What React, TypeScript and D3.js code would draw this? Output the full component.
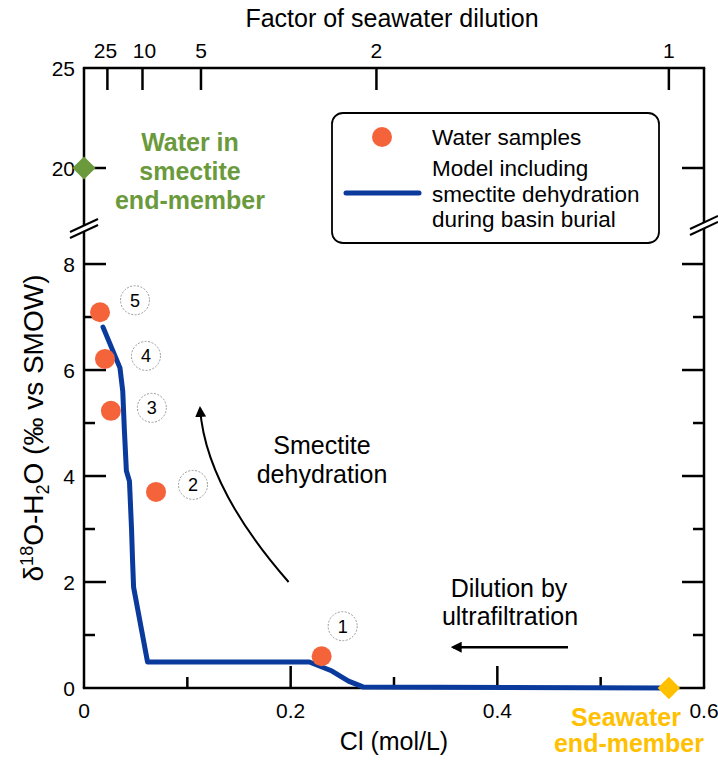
import React from 'react';
import * as d3 from 'd3';

// water samples (Cl in mol/L, d18O in permil)
const SAMPLE_IDS = ['1', '2', '3', '4', '5'];
const SAMPLE_CL = [0.230, 0.0697, 0.026, 0.0203, 0.0155];
const SAMPLE_D18O = [0.60, 3.70, 5.23, 6.21, 7.09];

// model: smectite dehydration during basin burial
const MODEL_CL = [0.0184, 0.0348, 0.0375, 0.039, 0.041, 0.044, 0.046, 0.047, 0.048, 0.0615, 0.218, 0.226, 0.24, 0.256, 0.27, 0.566];
const MODEL_D18O = [6.81, 6.04, 5.6, 4.9, 4.1, 3.9, 3.0, 2.4, 1.9, 0.49, 0.49, 0.43, 0.32, 0.13, 0.02, 0.0];

// end-members
const SEAWATER_CL = 0.566;
const SEAWATER_D18O = 0;
const SMECTITE_CL = 0;
const SMECTITE_D18O = 20;

// axes
const X_TICKS = [0.1, 0.2, 0.3, 0.4, 0.5];
const X_MAJOR = [0.2, 0.4];
const X_LABELS = ['0', '0.2', '0.4', '0.6'];
const Y_LOW_TICKS = [1, 2, 3, 4, 5, 6, 7, 8];
const Y_LOW_LABELS = [0, 2, 4, 6, 8];
const Y_HIGH_LABELS = [20, 25];
const FACTOR_TICKS = [25, 10, 5, 2, 1];

const FONT = 'Arial, "Liberation Sans", Helvetica, sans-serif';
const BLUE = '#0a3a9c';
const ORANGE = '#f4633a';
const GREEN = '#6a9a3c';
const YELLOW = '#ffc000';

const W = 718;
const H = 760;
const L = 84, R = 704, B = 688, T = 68, BRK = 228;

const App = () => {
  const x = d3.scaleLinear().domain([0, 0.6]).range([L, R]);
  const yLow = d3.scaleLinear().domain([0, 8.68]).range([B, BRK]);
  const yHigh = d3.scaleLinear().domain([17, 25]).range([BRK, T]);

  const line = d3.line<number>()
    .x(i => x(MODEL_CL[i]))
    .y(i => yLow(MODEL_D18O[i]));
  const modelPath = line(MODEL_CL.map((_, i) => i)) || '';

  // curved annotation arrow (data coordinates)
  const curved = d3.path();
  curved.moveTo(x(0.198), yLow(2.0));
  curved.quadraticCurveTo(x(0.1176), yLow(3.79), x(0.1123), yLow(5.28));

  const breakMark = (cx: number, cy: number) => (
    <g>
      <polygon points={`${cx - 14},${cy + 7} ${cx + 14},${cy - 6} ${cx + 14},${cy} ${cx - 14},${cy + 13}`} fill="white" />
      <line x1={cx - 14} y1={cy + 7} x2={cx + 14} y2={cy - 6} stroke="black" strokeWidth={2} />
      <line x1={cx - 14} y1={cy + 13} x2={cx + 14} y2={cy} stroke="black" strokeWidth={2} />
    </g>
  );

  const labelOffsets = [[21, -30], [37, -7], [41, -3], [41, -3], [35, -12]];

  return (
    <div style={{ position: 'absolute', left: 0, top: 0 }}>
      <svg width={W} height={H} style={{ display: 'block', background: 'white' }} fontFamily={FONT}>
        <defs>
          <marker id="ah" viewBox="0 0 10 10" refX="8" refY="5" markerWidth="11" markerHeight="11" markerUnits="userSpaceOnUse" orient="auto">
            <path d="M0,0 L10,5 L0,10 z" fill="black" />
          </marker>
        </defs>

        {/* frame */}
        <g stroke="black" strokeWidth={2.5} fill="none">
          <line x1={L} y1={T} x2={L} y2={B} />
          <line x1={R} y1={T} x2={R} y2={B} />
          <line x1={L - 1.2} y1={B} x2={R + 1.2} y2={B} />
          <line x1={L - 1.2} y1={T} x2={R + 1.2} y2={T} />
        </g>

        {/* bottom ticks */}
        <g stroke="black" strokeWidth={2.5}>
          {X_TICKS.map(t => (
            <line key={t} x1={x(t)} x2={x(t)} y1={B} y2={B - (X_MAJOR.includes(t) ? 22 : 11)} />
          ))}
        </g>
        <g fontSize={21} textAnchor="middle">
          {X_LABELS.map(t => (
            <text key={t} x={x(+t)} y={B + 30}>{t}</text>
          ))}
        </g>
        <text x={394} y={750} fontSize={25} textAnchor="middle">Cl (mol/L)</text>

        {/* top axis: factor of seawater dilution */}
        <g stroke="black" strokeWidth={2.5}>
          {FACTOR_TICKS.map(f => (
            <line key={f} x1={x(SEAWATER_CL / f)} x2={x(SEAWATER_CL / f)} y1={T} y2={T + 22} />
          ))}
        </g>
        <g fontSize={21} textAnchor="middle">
          {FACTOR_TICKS.map(f => (
            <text key={f} x={x(SEAWATER_CL / f) + (f === 25 ? -2 : f === 10 ? 2 : 0)} y={T - 10}>{f}</text>
          ))}
        </g>
        <text x={392} y={27} fontSize={25} textAnchor="middle">Factor of seawater dilution</text>

        {/* left/right ticks */}
        <g stroke="black" strokeWidth={2.5}>
          {Y_LOW_TICKS.map(t => {
            const len = t % 2 === 0 ? 22 : 11;
            return (
              <g key={t}>
                <line x1={L} x2={L + len} y1={yLow(t)} y2={yLow(t)} />
                <line x1={R} x2={R - len} y1={yLow(t)} y2={yLow(t)} />
              </g>
            );
          })}
          <line x1={L} x2={L + 22} y1={yHigh(20)} y2={yHigh(20)} />
          <line x1={R} x2={R - 22} y1={yHigh(20)} y2={yHigh(20)} />
        </g>
        <g fontSize={21} textAnchor="end">
          {Y_LOW_LABELS.map(t => (
            <text key={t} x={L - 9} y={yLow(t) + 7.5}>{t}</text>
          ))}
          {Y_HIGH_LABELS.map(t => (
            <text key={t} x={L - 9} y={yHigh(t) + 7.5}>{t}</text>
          ))}
        </g>
        <text transform="translate(43,428) rotate(-90)" fontSize={28} textAnchor="middle">
          δ<tspan dy={-10} fontSize={18}>18</tspan><tspan dy={10}>O-H</tspan><tspan dy={6} fontSize={18}>2</tspan><tspan dy={-6}>O (‰ vs SMOW)</tspan>
        </text>

        {/* axis breaks */}
        {breakMark(L, BRK - 3)}
        {breakMark(R, BRK - 6)}

        {/* model line */}
        <path d={modelPath} fill="none" stroke={BLUE} strokeWidth={5} strokeLinejoin="round" strokeLinecap="round" />

        {/* samples */}
        {SAMPLE_CL.map((c, i) => (
          <circle key={i} cx={x(c)} cy={yLow(SAMPLE_D18O[i])} r={10} fill={ORANGE} />
        ))}
        {SAMPLE_CL.map((c, i) => {
          const cx = x(c) + labelOffsets[i][0];
          const cy = yLow(SAMPLE_D18O[i]) + labelOffsets[i][1];
          return (
            <g key={i}>
              <circle cx={cx} cy={cy} r={14.5} fill="white" stroke="#9a9a9a" strokeWidth={1} strokeDasharray="2,1.5" />
              <text x={cx} y={cy + 6.5} fontSize={18} textAnchor="middle">{SAMPLE_IDS[i]}</text>
            </g>
          );
        })}

        {/* end-members */}
        <path d={d3.symbol(d3.symbolDiamond2, 340)() || ''} transform={`translate(${x(SMECTITE_CL)},${yHigh(SMECTITE_D18O)})`} fill={GREEN} />
        <path d={d3.symbol(d3.symbolDiamond2, 320)() || ''} transform={`translate(${x(SEAWATER_CL)},${yLow(SEAWATER_D18O)})`} fill={YELLOW} />

        <g fill={GREEN} fontSize={25} fontWeight="bold" textAnchor="middle">
          <text x={190} y={151}>Water in</text>
          <text x={190} y={180}>smectite</text>
          <text x={190} y={209}>end-member</text>
        </g>
        <g fill={YELLOW} fontSize={25} fontWeight="bold" textAnchor="middle">
          <text x={626} y={726}>Seawater</text>
          <text x={629} y={752}>end-member</text>
        </g>

        {/* annotations */}
        <path d={curved.toString()} fill="none" stroke="black" strokeWidth={2} markerEnd="url(#ah)" />
        <g fontSize={25} textAnchor="middle">
          <text x={322} y={454}>Smectite</text>
          <text x={322} y={483}>dehydration</text>
          <text x={509} y={597}>Dilution by</text>
          <text x={510} y={625}>ultrafiltration</text>
        </g>
        <line x1={x(0.4684)} y1={yLow(0.77)} x2={x(0.357)} y2={yLow(0.77)} stroke="black" strokeWidth={2.5} markerEnd="url(#ah)" />

        {/* legend */}
        <rect x={332} y={113} width={327} height={130} rx={11} fill="white" stroke="black" strokeWidth={1.8} />
        <circle cx={382} cy={137} r={10} fill={ORANGE} />
        <line x1={346} x2={419} y1={193} y2={193} stroke={BLUE} strokeWidth={5} strokeLinecap="round" />
        <g fontSize={22.5}>
          <text x={432} y={145}>Water samples</text>
          <text x={432} y={176}>Model including</text>
          <text x={432} y={202}>smectite dehydration</text>
          <text x={432} y={227}>during basin burial</text>
        </g>
      </svg>
    </div>
  );
};

export default App;
